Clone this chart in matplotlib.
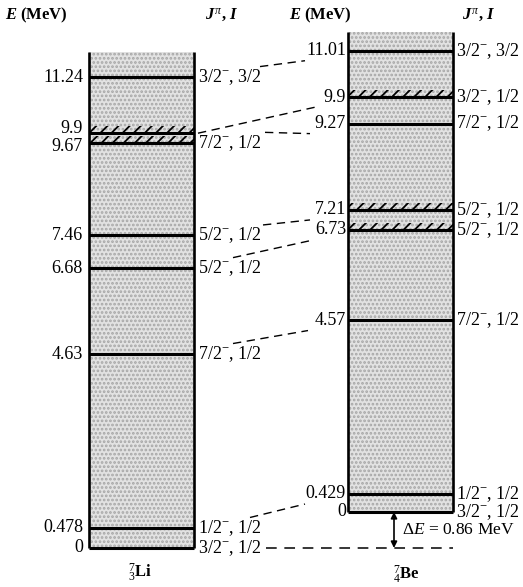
"""Energy levels of the mirror nuclei 7Li and 7Be."""

import matplotlib.pyplot as plt
from matplotlib.patches import Rectangle

plt.rcParams['font.family'] = ['Liberation Serif', 'DejaVu Serif']
plt.rcParams['mathtext.fontset'] = 'custom'
plt.rcParams['mathtext.rm'] = 'Liberation Serif'
plt.rcParams['mathtext.it'] = 'Liberation Serif:italic'
plt.rcParams['mathtext.bf'] = 'Liberation Serif:bold'
plt.rcParams['mathtext.bfit'] = 'Liberation Serif:italic:bold'
plt.rcParams['hatch.linewidth'] = 1.3

# level data (MeV above each nucleus' ground state)
li_energy = [0, 0.478, 4.63, 6.68, 7.46, 9.67, 9.9, 11.24]
li_energy_text = ['0', '0.478', '4.63', '6.68', '7.46', '9.67', '9.9', '11.24']
li_spin = ['3/2$^{-}$, 1/2', '1/2$^{-}$, 1/2', '7/2$^{-}$, 1/2', '5/2$^{-}$, 1/2',
           '5/2$^{-}$, 1/2', '7/2$^{-}$, 1/2', '', '3/2$^{-}$, 3/2']
li_broad = [False, False, False, False, False, True, True, False]

be_energy = [0, 0.429, 4.57, 6.73, 7.21, 9.27, 9.9, 11.01]
be_energy_text = ['0', '0.429', '4.57', '6.73', '7.21', '9.27', '9.9', '11.01']
be_spin = ['3/2$^{-}$, 1/2', '1/2$^{-}$, 1/2', '7/2$^{-}$, 1/2', '5/2$^{-}$, 1/2',
           '5/2$^{-}$, 1/2', '7/2$^{-}$, 1/2', '3/2$^{-}$, 1/2', '3/2$^{-}$, 3/2']
be_broad = [False, False, False, True, True, False, True, False]

delta_e = 0.86   # Be ground state above Li ground state

# layout (pixels across, MeV up)
li_x0, li_x1, li_top = 89, 194, 11.84
be_x0, be_x1, be_top = 348, 453, 12.32
link_x0 = [266, 250, 233, 233, 263, 265, 198, 260]
link_x1 = [453, 305, 308, 313, 310, 310, 315, 305]
li_label_nudge = [0, 0, 0, 0, 0, -2.5, 3.5, 0]   # points, to keep 9.9 / 9.67 apart

fig = plt.figure(figsize=(5.23, 5.87), dpi=100)
ax = fig.add_axes([0, 0, 1, 1])
ax.set_xlim(0, 523)
ax.set_ylim(-0.931, 13.079)
ax.axis('off')


def draw_nucleus(x0, x1, base, top, energy, broad):
    ax.add_patch(Rectangle((x0, base), x1 - x0, top - base, facecolor='#e2e2e2',
                           edgecolor='#a6a6a6', hatch='....', linewidth=0, zorder=1))
    ax.plot([x0, x0], [base, top], color='k', lw=1.9, zorder=3, solid_capstyle='butt')
    ax.plot([x1, x1], [base, top], color='k', lw=1.9, zorder=3, solid_capstyle='butt')
    for e, b in zip(energy, broad):
        ax.plot([x0, x1], [base + e, base + e], color='k', lw=2.2, zorder=4,
                solid_capstyle='butt')
        if b:
            ax.add_patch(Rectangle((x0, base + e), x1 - x0, 0.16, facecolor='none',
                                   edgecolor='k', hatch='///', linewidth=0, zorder=4))


draw_nucleus(li_x0, li_x1, 0, li_top, li_energy, li_broad)
draw_nucleus(be_x0, be_x1, delta_e, be_top, be_energy, be_broad)

fs = 13
for e, t, s, dy in zip(li_energy, li_energy_text, li_spin, li_label_nudge):
    ax.annotate(t, (li_x0 - 6, e), xytext=(0, dy), textcoords='offset points',
                ha='right', va='center', fontsize=fs)
    if s:
        ax.text(li_x1 + 4, e, s, ha='left', va='center', fontsize=fs)
for e, t, s in zip(be_energy, be_energy_text, be_spin):
    ax.text(be_x0 - 2, e + delta_e, t, ha='right', va='center', fontsize=fs)
    ax.text(be_x1 + 3, e + delta_e, s, ha='left', va='center', fontsize=fs)

# dashed links between mirror levels
for i, (el, eb) in enumerate(zip(li_energy, be_energy)):
    if i == 0:
        ax.plot([link_x0[i], link_x1[i]], [el, el], color='k', lw=1.1,
                dashes=(7, 5), zorder=2)
        continue
    y0 = el if i == 6 else el + 0.25
    ax.plot([link_x0[i], link_x1[i]], [y0, eb + delta_e - 0.24], color='k', lw=1.0,
            dashes=(6, 4), zorder=2)

ax.annotate('', xy=(394, 0), xytext=(394, delta_e),
            arrowprops=dict(arrowstyle='<|-|>', color='k', lw=1.2,
                            mutation_scale=9, shrinkA=0, shrinkB=0))
ax.text(402, delta_e / 2, r'$\Delta E$ = 0.86 MeV', ha='left', va='center', fontsize=12.5)

# headers and nucleus names
for x in (5, 289):
    ax.text(x, 12.72, r'$\mathbfit{E}$ (MeV)', ha='left', va='center',
            fontsize=12, fontweight='bold')
for x in (205, 462):
    ax.text(x, 12.72, r'$\mathbfit{J}^{\,\pi}$, $\mathbfit{I}$', ha='left', va='center',
            fontsize=12, fontweight='bold')
ax.text(140, -0.60, r'${}^{7}_{3}\mathbf{Li}$', ha='center', va='center', fontsize=12)
ax.text(406, -0.64, r'${}^{7}_{4}\mathbf{Be}$', ha='center', va='center', fontsize=12)

fig.savefig('out.png', dpi=100)
